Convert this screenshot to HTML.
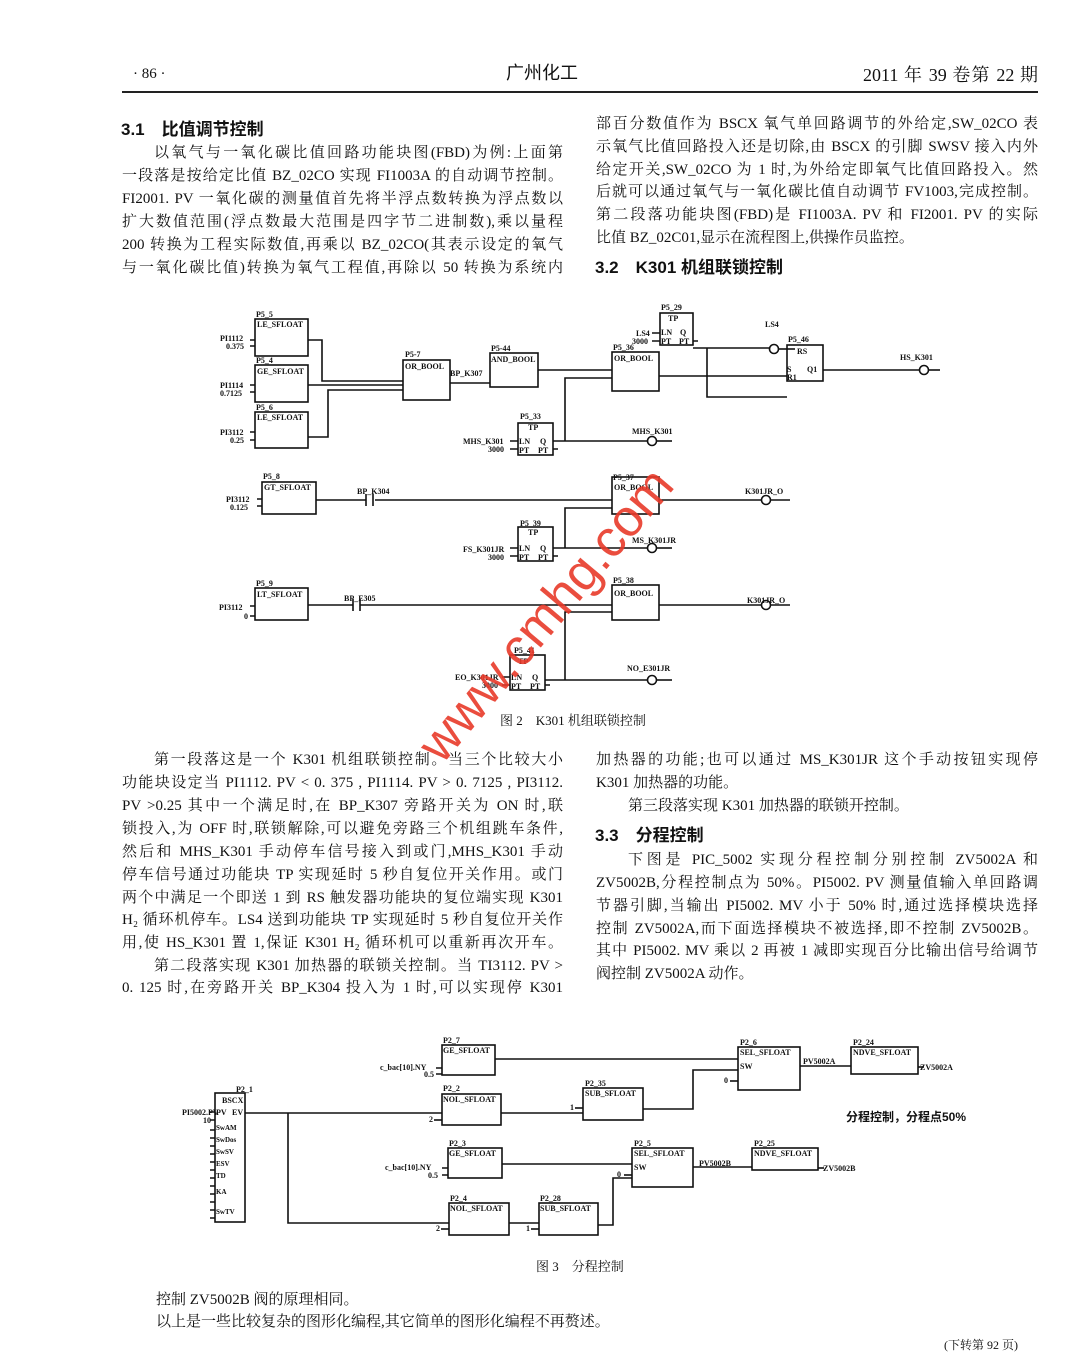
<!DOCTYPE html>
<html><head><meta charset="utf-8"><style>
html,body{margin:0;padding:0;background:#fff;}
body{width:1079px;height:1355px;position:relative;overflow:hidden;font-family:"Liberation Serif","Noto Serif CJK SC",serif;color:#111;}
.l{position:absolute;font-size:15px;line-height:18px;white-space:nowrap;}
.j{text-align:justify;text-align-last:justify;white-space:normal;height:18px;overflow:hidden;}
.h{position:absolute;font-family:"Liberation Sans","Noto Sans CJK SC",sans-serif;font-weight:bold;font-size:17px;}
svg text{font-family:"Liberation Serif",serif;font-weight:bold;font-size:8px;fill:#111;}
</style></head><body>
<div class="l" style="left:133px;top:65px;font-size:15px">· 86 ·</div>
<div class="l" style="left:506px;top:64px;font-size:18px;font-family:'Liberation Sans','Noto Sans CJK SC',sans-serif">广州化工</div>
<div class="l j" style="left:863px;top:65px;width:175px;font-size:18px;height:20px;line-height:20px">2011 年 39 卷第 22 期</div>
<div style="position:absolute;left:122px;top:91px;width:916px;height:2px;background:#222"></div>

<div class="h" style="left:121px;top:115px">3.1　比值调节控制</div>
<div class="l j" style="left:154px;top:144px;width:409px">以氧气与一氧化碳比值回路功能块图(FBD)为例:上面第</div>
<div class="l j" style="left:122px;top:167px;width:441px">一段落是按给定比值 BZ_02CO 实现 FI1003A 的自动调节控制。</div>
<div class="l j" style="left:122px;top:190px;width:441px">FI2001. PV 一氧化碳的测量值首先将半浮点数转换为浮点数以</div>
<div class="l j" style="left:122px;top:213px;width:441px">扩大数值范围(浮点数最大范围是四字节二进制数),乘以量程</div>
<div class="l j" style="left:122px;top:236px;width:441px">200 转换为工程实际数值,再乘以 BZ_02CO(其表示设定的氧气</div>
<div class="l j" style="left:122px;top:259px;width:441px">与一氧化碳比值)转换为氧气工程值,再除以 50 转换为系统内</div>

<div class="l j" style="left:596px;top:115px;width:442px">部百分数值作为 BSCX 氧气单回路调节的外给定,SW_02CO 表</div>
<div class="l j" style="left:596px;top:138px;width:442px">示氧气比值回路投入还是切除,由 BSCX 的引脚 SWSV 接入内外</div>
<div class="l j" style="left:596px;top:161px;width:442px">给定开关,SW_02CO 为 1 时,为外给定即氧气比值回路投入。然</div>
<div class="l j" style="left:596px;top:183px;width:442px">后就可以通过氧气与一氧化碳比值自动调节 FV1003,完成控制。</div>
<div class="l j" style="left:596px;top:206px;width:442px">第二段落功能块图(FBD)是 FI1003A. PV 和 FI2001. PV 的实际</div>
<div class="l" style="left:596px;top:229px">比值 BZ_02C01,显示在流程图上,供操作员监控。</div>
<div class="h" style="left:595px;top:253px">3.2　K301 机组联锁控制</div>

<svg style="position:absolute;left:0;top:0" width="1079" height="1355" fill="none" stroke="#111" stroke-width="1.6">
<g>
<rect x="255" y="319" width="53" height="37"/><text x="256" y="317" stroke="none">P5_5</text><text x="257" y="327" stroke="none">LE_SFLOAT</text>
<text x="220" y="341" stroke="none">PI1112</text><text x="226" y="349" stroke="none">0.375</text>
<rect x="255" y="365" width="53" height="37"/><text x="256" y="363" stroke="none">P5_4</text><text x="257" y="374" stroke="none">GE_SFLOAT</text>
<text x="220" y="388" stroke="none">PI1114</text><text x="220" y="396" stroke="none">0.7125</text>
<rect x="255" y="412" width="53" height="36"/><text x="256" y="410" stroke="none">P5_6</text><text x="257" y="420" stroke="none">LE_SFLOAT</text>
<text x="220" y="435" stroke="none">PI3112</text><text x="230" y="443" stroke="none">0.25</text>
<path d="M250 340H255M250 346H255M250 385H255M250 392H255M250 432H255M250 440H255"/>
<path d="M308 340H322V381H403M308 385H403M308 437H328V390H403"/>
<rect x="403" y="360" width="47" height="40"/><text x="405" y="357" stroke="none">P5-7</text><text x="405" y="369" stroke="none">OR_BOOL</text>
<text x="450" y="376" stroke="none">BP_K307</text>
<path d="M450 383H490"/>
<rect x="490" y="353" width="48" height="34"/><text x="491" y="351" stroke="none">P5-44</text><text x="491" y="362" stroke="none">AND_BOOL</text>
<path d="M538 370H612"/>
<rect x="612" y="352" width="47" height="39"/><text x="613" y="350" stroke="none">P5_36</text><text x="614" y="361" stroke="none">OR_BOOL</text>
<rect x="518" y="423" width="35" height="32"/><text x="520" y="419" stroke="none">P5_33</text><text x="528" y="430" stroke="none">TP</text><text x="519" y="444" stroke="none">LN</text><text x="540" y="444" stroke="none">Q</text><text x="519" y="453" stroke="none">PT</text><text x="538" y="453" stroke="none">PT</text>
<text x="463" y="444" stroke="none">MHS_K301</text><text x="488" y="452" stroke="none">3000</text>
<path d="M510 441H518M510 449H518M553 449H558"/>
<path d="M553 441H650M565 441V378H612"/>
<circle cx="652" cy="441" r="4.5" fill="#fff"/><path d="M657 441H672"/><text x="632" y="434" stroke="none">MHS_K301</text>
<rect x="660" y="313" width="33" height="32"/><text x="661" y="310" stroke="none">P5_29</text><text x="668" y="321" stroke="none">TP</text><text x="661" y="335" stroke="none">LN</text><text x="680" y="335" stroke="none">Q</text><text x="661" y="344" stroke="none">PT</text><text x="679" y="344" stroke="none">PT</text>
<text x="636" y="336" stroke="none">LS4</text><text x="632" y="344" stroke="none">3000</text>
<path d="M652 333H660M652 341H660M693 341H698"/>
<path d="M693 348H770M707 348V397H787"/>
<circle cx="774" cy="349" r="4.5" fill="#fff"/><path d="M779 349H795"/><text x="765" y="327" stroke="none">LS4</text>
<rect x="787" y="345" width="36" height="36"/><text x="788" y="342" stroke="none">P5_46</text><text x="797" y="354" stroke="none">RS</text><text x="787" y="372" stroke="none">S</text><text x="787" y="380" stroke="none">R1</text><text x="807" y="372" stroke="none">Q1</text>
<path d="M659 376H787M823 370H920"/>
<circle cx="924" cy="370" r="4.5" fill="#fff"/><path d="M929 370H940"/><text x="900" y="360" stroke="none">HS_K301</text>

<rect x="262" y="482" width="54" height="32"/><text x="263" y="479" stroke="none">P5_8</text><text x="264" y="490" stroke="none">GT_SFLOAT</text>
<text x="226" y="502" stroke="none">PI3112</text><text x="230" y="510" stroke="none">0.125</text>
<path d="M257 499H262M257 506H262"/>
<path d="M316 500H366M375 500H612M366 494V506M373 494V506"/><text x="357" y="494" stroke="none">BP_K304</text>
<rect x="612" y="477" width="47" height="37"/><text x="613" y="480" stroke="none">P5_37</text><text x="614" y="490" stroke="none">OR_BOOL</text>
<path d="M659 500H762"/><circle cx="766" cy="500" r="4.5" fill="#fff"/><path d="M771 500H790"/><text x="745" y="494" stroke="none">K301JR_O</text>
<rect x="518" y="527" width="35" height="34"/><text x="520" y="526" stroke="none">P5_39</text><text x="528" y="535" stroke="none">TP</text><text x="519" y="551" stroke="none">LN</text><text x="540" y="551" stroke="none">Q</text><text x="519" y="560" stroke="none">PT</text><text x="538" y="560" stroke="none">PT</text>
<text x="463" y="552" stroke="none">FS_K301JR</text><text x="488" y="560" stroke="none">3000</text>
<path d="M510 548H518M510 556H518M553 556H558"/>
<path d="M553 548H648M565 548V508H612"/><circle cx="652" cy="548" r="4.5" fill="#fff"/><path d="M657 548H672"/><text x="632" y="543" stroke="none">MS_K301JR</text>

<rect x="255" y="588" width="53" height="32"/><text x="256" y="586" stroke="none">P5_9</text><text x="257" y="597" stroke="none">LT_SFLOAT</text>
<text x="219" y="610" stroke="none">PI3112</text><text x="244" y="619" stroke="none">0</text>
<path d="M250 606H255M250 616H255"/>
<path d="M308 605H353M360 605H612M353 599V611M360 599V611"/><text x="344" y="601" stroke="none">BP_E305</text>
<rect x="612" y="585" width="47" height="35"/><text x="613" y="583" stroke="none">P5_38</text><text x="614" y="596" stroke="none">OR_BOOL</text>
<path d="M659 605H762"/><circle cx="766" cy="605" r="4.5" fill="#fff"/><path d="M771 605H790"/><text x="747" y="603" stroke="none">K301JR_O</text>
<rect x="510" y="655" width="35" height="35"/><text x="514" y="653" stroke="none">P5_41</text><text x="518" y="664" stroke="none">TP</text><text x="511" y="680" stroke="none">LN</text><text x="532" y="680" stroke="none">Q</text><text x="511" y="689" stroke="none">PT</text><text x="530" y="689" stroke="none">PT</text>
<text x="455" y="680" stroke="none">EO_K301JR</text><text x="482" y="688" stroke="none">3000</text>
<path d="M502 677H510M502 685H510M545 685H550"/>
<path d="M545 680H648M565 680V612H612"/><circle cx="652" cy="680" r="4.5" fill="#fff"/><path d="M657 680H672"/><text x="627" y="671" stroke="none">NO_E301JR</text>
</g>

<g>
<rect x="215" y="1093" width="30" height="129"/><text x="236" y="1092" stroke="none">P2_1</text><text x="222" y="1103" stroke="none">BSCX</text>
<text x="182" y="1115" stroke="none">PI5002.PV</text><text x="216" y="1115" stroke="none">PV</text><text x="232" y="1115" stroke="none">EV</text><text x="203" y="1123" stroke="none">10</text>
<path d="M210 1112H215M210 1120H215M210 1130H215M210 1138H215M210 1146H215M210 1154H215M210 1162H215M210 1170H215M210 1178H215M210 1186H215M210 1194H215M210 1202H215M210 1210H215M210 1218H215"/>
<text x="216" y="1130" stroke="none" style="font-size:7px">SwAM</text><text x="216" y="1142" stroke="none" style="font-size:7px">SwDos</text><text x="216" y="1154" stroke="none" style="font-size:7px">SwSV</text><text x="216" y="1166" stroke="none" style="font-size:7px">ESV</text><text x="216" y="1178" stroke="none" style="font-size:7px">TD</text><text x="216" y="1194" stroke="none" style="font-size:7px">KA</text><text x="216" y="1214" stroke="none" style="font-size:7px">SwTV</text>
<path d="M245 1113H442M288 1113V1223H449"/>
<rect x="442" y="1045" width="53" height="30"/><text x="443" y="1043" stroke="none">P2_7</text><text x="443" y="1053" stroke="none">GE_SFLOAT</text>
<text x="380" y="1070" stroke="none">c_bac[10].NY</text><text x="424" y="1077" stroke="none">0.5</text><path d="M436 1068H442M436 1074H442"/>
<path d="M495 1059H738"/>
<rect x="442" y="1094" width="59" height="31"/><text x="443" y="1091" stroke="none">P2_2</text><text x="443" y="1102" stroke="none">NOL_SFLOAT</text>
<text x="429" y="1122" stroke="none">2</text><path d="M434 1120H442"/>
<path d="M501 1113H583"/>
<rect x="583" y="1088" width="60" height="32"/><text x="585" y="1086" stroke="none">P2_35</text><text x="585" y="1096" stroke="none">SUB_SFLOAT</text>
<text x="570" y="1110" stroke="none">1</text><path d="M575 1108H583"/>
<path d="M643 1109H693V1070H738"/>
<rect x="738" y="1047" width="62" height="43"/><text x="740" y="1045" stroke="none">P2_6</text><text x="740" y="1055" stroke="none">SEL_SFLOAT</text><text x="740" y="1069" stroke="none">SW</text>
<text x="724" y="1083" stroke="none">0</text><path d="M730 1081H738"/>
<path d="M800 1066H851"/><text x="803" y="1064" stroke="none">PV5002A</text>
<rect x="851" y="1047" width="67" height="27"/><text x="853" y="1045" stroke="none">P2_24</text><text x="853" y="1055" stroke="none">NDVE_SFLOAT</text>
<text x="920" y="1070" stroke="none">ZV5002A</text><path d="M918 1067H924"/>
<rect x="448" y="1148" width="54" height="30"/><text x="449" y="1146" stroke="none">P2_3</text><text x="449" y="1156" stroke="none">GE_SFLOAT</text>
<text x="385" y="1170" stroke="none">c_bac[10].NY</text><text x="428" y="1178" stroke="none">0.5</text><path d="M442 1168H448M442 1175H448"/>
<path d="M502 1164H632"/>
<rect x="449" y="1203" width="60" height="32"/><text x="450" y="1201" stroke="none">P2_4</text><text x="450" y="1211" stroke="none">NOL_SFLOAT</text>
<text x="436" y="1231" stroke="none">2</text><path d="M441 1229H449"/>
<path d="M509 1223H539"/>
<rect x="539" y="1203" width="59" height="32"/><text x="540" y="1201" stroke="none">P2_28</text><text x="540" y="1211" stroke="none">SUB_SFLOAT</text>
<text x="526" y="1231" stroke="none">1</text><path d="M531 1229H539"/>
<path d="M598 1225H613V1178H632"/>
<rect x="632" y="1148" width="61" height="39"/><text x="634" y="1146" stroke="none">P2_5</text><text x="634" y="1156" stroke="none">SEL_SFLOAT</text><text x="634" y="1170" stroke="none">SW</text>
<text x="617" y="1177" stroke="none">0</text><path d="M624 1175H632"/>
<path d="M693 1167H752"/><text x="699" y="1166" stroke="none">PV5002B</text>
<rect x="752" y="1148" width="66" height="22"/><text x="754" y="1146" stroke="none">P2_25</text><text x="754" y="1156" stroke="none">NDVE_SFLOAT</text>
<path d="M818 1168H824"/><text x="823" y="1171" stroke="none">ZV5002B</text>
</g>
</svg>
<div class="l" style="left:846px;top:1108px;font-size:12px;font-weight:bold;font-family:'Liberation Sans','Noto Sans CJK SC',sans-serif">分程控制，分程点50%</div>

<div class="l" style="left:500px;top:712px;font-size:13px">图 2　K301 机组联锁控制</div>
<div class="l" style="left:536px;top:1258px;font-size:13px">图 3　分程控制</div>

<div style="position:absolute;left:370px;top:598px;width:330px;font-size:52px;color:#e83a2a;transform:rotate(-50deg);transform-origin:center;font-family:'Liberation Sans',sans-serif;white-space:nowrap;text-align:center;opacity:.9">www.cmhg.com</div>

<div class="l j" style="left:154px;top:751px;width:409px">第一段落这是一个 K301 机组联锁控制。当三个比较大小</div>
<div class="l j" style="left:122px;top:774px;width:441px">功能块设定当 PI1112. PV &lt; 0. 375 , PI1114. PV &gt; 0. 7125 , PI3112.</div>
<div class="l j" style="left:122px;top:797px;width:441px">PV &gt;0.25 其中一个满足时,在 BP_K307 旁路开关为 ON 时,联</div>
<div class="l j" style="left:122px;top:820px;width:441px">锁投入,为 OFF 时,联锁解除,可以避免旁路三个机组跳车条件,</div>
<div class="l j" style="left:122px;top:843px;width:441px">然后和 MHS_K301 手动停车信号接入到或门,MHS_K301 手动</div>
<div class="l j" style="left:122px;top:866px;width:441px">停车信号通过功能块 TP 实现延时 5 秒自复位开关作用。或门</div>
<div class="l j" style="left:122px;top:889px;width:441px">两个中满足一个即送 1 到 RS 触发器功能块的复位端实现 K301</div>
<div class="l j" style="left:122px;top:911px;width:441px">H₂ 循环机停车。LS4 送到功能块 TP 实现延时 5 秒自复位开关作</div>
<div class="l j" style="left:122px;top:934px;width:441px">用,使 HS_K301 置 1,保证 K301 H₂ 循环机可以重新再次开车。</div>
<div class="l j" style="left:154px;top:957px;width:409px">第二段落实现 K301 加热器的联锁关控制。当 TI3112. PV &gt;</div>
<div class="l j" style="left:122px;top:979px;width:441px">0. 125 时,在旁路开关 BP_K304 投入为 1 时,可以实现停 K301</div>

<div class="l j" style="left:596px;top:751px;width:442px">加热器的功能;也可以通过 MS_K301JR 这个手动按钮实现停</div>
<div class="l" style="left:596px;top:774px">K301 加热器的功能。</div>
<div class="l" style="left:628px;top:797px">第三段落实现 K301 加热器的联锁开控制。</div>
<div class="h" style="left:595px;top:821px">3.3　分程控制</div>
<div class="l j" style="left:628px;top:851px;width:410px">下图是 PIC_5002 实现分程控制分别控制 ZV5002A 和</div>
<div class="l j" style="left:596px;top:874px;width:442px">ZV5002B,分程控制点为 50%。PI5002. PV 测量值输入单回路调</div>
<div class="l j" style="left:596px;top:897px;width:442px">节器引脚,当输出 PI5002. MV 小于 50% 时,通过选择模块选择</div>
<div class="l j" style="left:596px;top:920px;width:442px">控制 ZV5002A,而下面选择模块不被选择,即不控制 ZV5002B。</div>
<div class="l j" style="left:596px;top:942px;width:442px">其中 PI5002. MV 乘以 2 再被 1 减即实现百分比输出信号给调节</div>
<div class="l" style="left:596px;top:965px">阀控制 ZV5002A 动作。</div>

<div class="l" style="left:156px;top:1291px">控制 ZV5002B 阀的原理相同。</div>
<div class="l" style="left:156px;top:1313px">以上是一些比较复杂的图形化编程,其它简单的图形化编程不再赘述。</div>
<div class="l" style="left:944px;top:1336px;font-size:12px">(下转第 92 页)</div>
</body></html>
